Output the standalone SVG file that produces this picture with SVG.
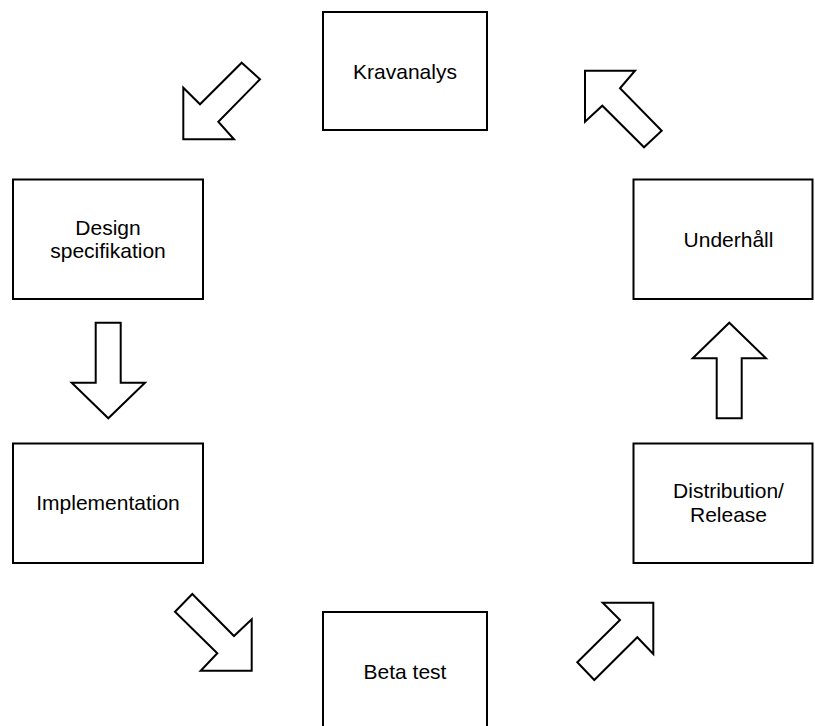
<svg xmlns="http://www.w3.org/2000/svg" width="815" height="726" viewBox="0 0 815 726">
  <style>
    .box { fill: #ffffff; stroke: #000000; stroke-width: 2; }
    .arrow { fill: #ffffff; stroke: #000000; stroke-width: 2; stroke-linejoin: miter; }
    .label { font-family: "Liberation Sans", Arial, sans-serif; font-size: 21px; fill: #000000; text-anchor: middle; }
  </style>
  <rect width="815" height="726" fill="#ffffff"/>

  <!-- block arrows between the phases -->
  <g id="connectors">
    <polygon class="arrow" points="241.7,62.7 260,79.3 218.3,121.7 234,139.3 183.3,139.3 183.3,87.7 200,104.3"/>
    <polygon class="arrow" points="95.7,322.7 120.7,322.7 120.7,382.7 145,382.7 108.3,418.3 71.7,382.7 95.7,382.7"/>
    <polygon class="arrow" points="192.3,594 234,636 251.7,619.3 251.7,670.7 200.7,670.7 217.3,653.3 175,611.7"/>
    <polygon class="arrow" points="577.3,662.3 620,620 602.7,602.7 653.3,602.7 653.3,654 637.3,637.3 594.3,680"/>
    <polygon class="arrow" points="716.7,418.3 716.7,358.3 692.7,358.3 729.3,322.7 766,358.3 741.7,358.3 741.7,418.3"/>
    <polygon class="arrow" points="644,147.3 602.3,105.7 585,121.7 585,70.7 635,70.7 620,88.3 661.7,130.7"/>
  </g>

  <g id="kravanalys">
    <rect class="box" x="323" y="12" width="164" height="118"/>
    <text class="label" x="405" y="78.5">Kravanalys</text>
  </g>

  <g id="design">
    <rect class="box" x="13" y="179.5" width="190" height="119.5"/>
    <text class="label" x="108" y="235">Design</text>
    <text class="label" x="108" y="258">specifikation</text>
  </g>

  <g id="implementation">
    <rect class="box" x="13" y="443.5" width="190" height="119.5"/>
    <text class="label" x="108" y="510">Implementation</text>
  </g>

  <g id="betatest">
    <rect class="box" x="323" y="612" width="164" height="118"/>
    <text class="label" x="405" y="678.5">Beta test</text>
  </g>

  <g id="distribution">
    <rect class="box" x="633.5" y="443.5" width="179" height="119.5"/>
    <text class="label" x="728.5" y="497.5">Distribution/</text>
    <text class="label" x="728.5" y="521.5">Release</text>
  </g>

  <g id="underhall">
    <rect class="box" x="633.5" y="179.5" width="179" height="119.5"/>
    <text class="label" x="728.5" y="246.5">Underhåll</text>
  </g>
</svg>
